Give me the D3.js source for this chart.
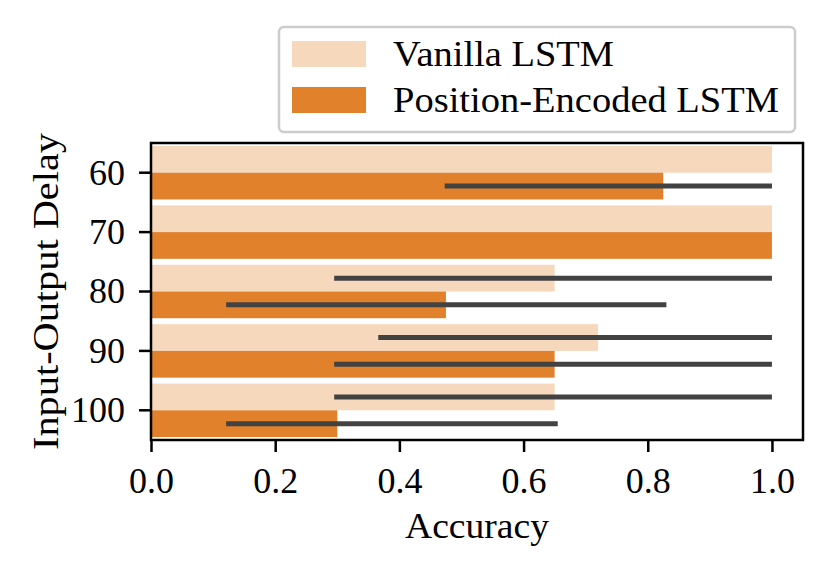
<!DOCTYPE html>
<html>
<head>
<meta charset="utf-8">
<script src="https://cdn.jsdelivr.net/npm/d3@7"></script>
<style>
  body { margin: 0; background: #fff; }
  text { font-family: "Liberation Serif", "DejaVu Serif", serif; fill: #000; }
</style>
</head>
<body>
<svg width="829" height="570"></svg>
<script>
'use strict';

// data
const delays = ['60', '70', '80', '90', '100'];
const seriesNames = ['Vanilla LSTM', 'Position-Encoded LSTM'];
const vanillaMean = [1.0, 1.0, 0.65, 0.72, 0.65];
const vanillaLow  = [1.0, 1.0, 0.295, 0.366, 0.295];
const vanillaHigh = [1.0, 1.0, 1.0, 1.0, 1.0];
const posMean = [0.825, 1.0, 0.475, 0.65, 0.30];
const posLow  = [0.473, 1.0, 0.121, 0.295, 0.121];
const posHigh = [1.0, 1.0, 0.83, 1.0, 0.655];
const xTicks = [0, 0.2, 0.4, 0.6, 0.8, 1.0];

const colors = ['#f6d8bc', '#e1812c'];

const svg = d3.select('svg');

const pLeft = 151, pRight = 803, pTop = 143, pBottom = 440;

const x = d3.scaleLinear().domain([0, 1.05]).range([pLeft, pRight]);
const y = d3.scaleBand().domain(delays).range([pTop, pBottom]);
const bw = y.bandwidth();
const sub = d3.scaleBand().domain(seriesNames).range([0.05 * bw, 0.95 * bw]);

const rows = [];
delays.forEach((d, i) => {
    rows.push({ cat: d, s: seriesNames[0], m: vanillaMean[i], lo: vanillaLow[i], hi: vanillaHigh[i], c: colors[0] });
    rows.push({ cat: d, s: seriesNames[1], m: posMean[i], lo: posLow[i], hi: posHigh[i], c: colors[1] });
});

// bars
svg.append('g').selectAll('rect')
    .data(rows)
    .enter()
    .append('rect')
        .attr('x', x(0))
        .attr('y', (d) => y(d.cat) + sub(d.s))
        .attr('width', (d) => x(d.m) - x(0))
        .attr('height', sub.bandwidth())
        .attr('fill', (d) => d.c);

// error bars (skip the ones with no spread)
svg.append('g').selectAll('line')
    .data(rows.filter((d) => d.hi > d.lo))
    .enter()
    .append('line')
        .attr('x1', (d) => x(d.lo))
        .attr('x2', (d) => x(d.hi))
        .attr('y1', (d) => y(d.cat) + sub(d.s) + sub.bandwidth() / 2)
        .attr('y2', (d) => y(d.cat) + sub(d.s) + sub.bandwidth() / 2)
        .attr('stroke', '#424242')
        .attr('stroke-width', 5);

// axes
const xAxis = svg.append('g')
    .attr('transform', `translate(0,${pBottom})`)
    .call(d3.axisBottom(x).tickValues(xTicks).tickFormat(d3.format('.1f')).tickSize(12).tickSizeOuter(0));
const yAxis = svg.append('g')
    .attr('transform', `translate(${pLeft},0)`)
    .call(d3.axisLeft(y).tickSize(12).tickSizeOuter(0));

[xAxis, yAxis].forEach((a) => {
    a.select('.domain').remove();
    a.selectAll('line').attr('stroke', '#000').attr('stroke-width', 2.5);
    a.selectAll('text').style('font-size', '36px').style('font-family', '"Liberation Serif", serif');
});
xAxis.selectAll('text').attr('y', 53).attr('dy', 0);
yAxis.selectAll('text').attr('x', -26).attr('dy', '0.33em');

// frame
svg.append('rect')
    .attr('x', pLeft).attr('y', pTop)
    .attr('width', pRight - pLeft).attr('height', pBottom - pTop)
    .attr('fill', 'none').attr('stroke', '#000').attr('stroke-width', 2.5);

// axis titles
svg.append('text')
    .attr('x', (pLeft + pRight) / 2).attr('y', 538)
    .attr('text-anchor', 'middle')
    .attr('textLength', 144).attr('lengthAdjust', 'spacingAndGlyphs')
    .style('font-size', '36px')
    .text('Accuracy');
svg.append('text')
    .attr('transform', `translate(58,${(pTop + pBottom) / 2}) rotate(-90)`)
    .attr('text-anchor', 'middle')
    .attr('textLength', 317).attr('lengthAdjust', 'spacingAndGlyphs')
    .style('font-size', '36px')
    .text('Input-Output Delay');

// legend
const labelWidths = [221, 386];
const lg = svg.append('g');
lg.append('rect')
    .attr('x', 279).attr('y', 27).attr('width', 516).attr('height', 105)
    .attr('rx', 5)
    .attr('fill', 'white').attr('fill-opacity', 0.8)
    .attr('stroke', '#cccccc').attr('stroke-width', 2.5);
lg.selectAll('.item')
    .data(seriesNames)
    .enter()
    .append('g')
        .attr('class', 'item')
        .attr('transform', (d, i) => `translate(292, ${41 + i * 46})`);
lg.selectAll('.item')
    .append('rect')
        .attr('width', 74).attr('height', 26)
        .attr('fill', (d, i) => colors[i]);
lg.selectAll('.item')
    .append('text')
        .attr('x', 101).attr('y', 25)
        .attr('textLength', (d, i) => labelWidths[i]).attr('lengthAdjust', 'spacingAndGlyphs')
        .style('font-size', '36px')
        .text((d) => d);
</script>
</body>
</html>
